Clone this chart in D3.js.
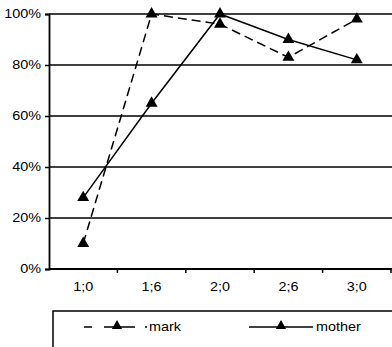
<!DOCTYPE html>
<html>
<head>
<meta charset="utf-8">
<script src="https://cdn.jsdelivr.net/npm/d3@7"></script>
<style>
  html, body { margin: 0; padding: 0; background: #fff; }
  svg { display: block; }
  text { font-family: "Liberation Sans", Arial, sans-serif; font-size: 12px; fill: #000; }
</style>
</head>
<body>
<script>
// Age points and the share of target forms produced by each speaker
const ages = ["1;0", "1;6", "2;0", "2;6", "3;0"];
const markValues = [0.10, 1.00, 0.96, 0.83, 0.98];
const motherValues = [0.28, 0.65, 1.00, 0.90, 0.82];
const yTicks = [0, 0.2, 0.4, 0.6, 0.8, 1.0];
const seriesNames = ["mark", "mother"];

const W = 392, H = 347;
const margin = { left: 49, right: 0, top: 14, bottom: 78 };
const textStretch = 1.2; // labels are drawn slightly wide

const svg = d3.select("body").append("svg")
  .attr("width", W).attr("height", H);

const x = d3.scaleBand().domain(ages)
  .range([margin.left, W - 1]).paddingInner(0).paddingOuter(0);
const y = d3.scaleLinear().domain([0, 1])
  .range([H - margin.bottom, margin.top]);

function wideText(g, tx, ty, str, anchor) {
  return g.append("text")
    .attr("transform", `translate(${tx},${ty}) scale(${textStretch},1)`)
    .attr("text-anchor", anchor || "start")
    .text(str);
}

// Horizontal gridlines
svg.append("g").selectAll("line").data(yTicks.filter(d => d > 0)).join("line")
  .attr("x1", margin.left).attr("x2", W)
  .attr("y1", d => y(d)).attr("y2", d => y(d))
  .attr("stroke", "#000").attr("stroke-width", 1.7);

// Y axis
const yAxis = svg.append("g")
  .attr("transform", `translate(${margin.left},0)`)
  .call(d3.axisLeft(y).tickValues(yTicks).tickSizeOuter(0).tickSize(4).tickFormat(""));
yAxis.select(".domain").attr("stroke-width", 1.8);
yAxis.selectAll(".tick line").attr("stroke-width", 1.5);
const fmt = d3.format(".0%");
yTicks.forEach(t => wideText(svg, 41, y(t) + 4, fmt(t), "end"));

// X axis with ticks between categories
const xAxisG = svg.append("g")
  .attr("transform", `translate(0,${y(0)})`);
xAxisG.append("line")
  .attr("x1", margin.left).attr("x2", W)
  .attr("stroke", "#000").attr("stroke-width", 1.8);
const bounds = ages.map(a => x(a)).concat([x(ages[ages.length - 1]) + x.bandwidth()]);
xAxisG.selectAll("line.t").data(bounds.slice(1)).join("line")
  .attr("class", "t")
  .attr("x1", d => d).attr("x2", d => d)
  .attr("y1", 0).attr("y2", 4)
  .attr("stroke", "#000").attr("stroke-width", 1.5);
ages.forEach(a => wideText(xAxisG, x(a) + x.bandwidth() / 2, 22, a, "middle"));

const cx = d => x(d) + x.bandwidth() / 2;
const line = d3.line().x(d => cx(d.age)).y(d => y(d.v));
const tri = d3.symbol().type(d3.symbolTriangle).size(62);

const series = [
  { name: seriesNames[0], values: markValues, dash: "9,5" },
  { name: seriesNames[1], values: motherValues, dash: null }
];

series.forEach(s => {
  const pts = ages.map((a, i) => ({ age: a, v: s.values[i] }));
  svg.append("path").datum(pts)
    .attr("d", line)
    .attr("fill", "none")
    .attr("stroke", "#000")
    .attr("stroke-width", 1.5)
    .attr("stroke-dasharray", s.dash);
  svg.append("g").selectAll("path").data(pts).join("path")
    .attr("d", tri)
    .attr("transform", d => `translate(${cx(d.age)},${y(d.v)})`)
    .attr("fill", "#000");
});

// Legend
const lg = svg.append("g");
lg.append("rect")
  .attr("x", 53).attr("y", 311)
  .attr("width", W).attr("height", 60)
  .attr("fill", "none").attr("stroke", "#000").attr("stroke-width", 1.5);

const legendY = 327;
const legendItems = [
  { name: seriesNames[0], x1: 84, x2: 147, mid: 117, dash: "8,12,31,10,2", tx: 149 },
  { name: seriesNames[1], x1: 249, x2: 313, mid: 281, dash: null, tx: 316 }
];
legendItems.forEach(it => {
  lg.append("line")
    .attr("x1", it.x1).attr("x2", it.x2)
    .attr("y1", legendY).attr("y2", legendY)
    .attr("stroke", "#000").attr("stroke-width", 1.5)
    .attr("stroke-dasharray", it.dash);
  lg.append("path").attr("d", d3.symbol().type(d3.symbolTriangle).size(45))
    .attr("transform", `translate(${it.mid},${legendY - 1})`)
    .attr("fill", "#000");
  wideText(lg, it.tx, legendY + 4, it.name, "start");
});
</script>
</body>
</html>
